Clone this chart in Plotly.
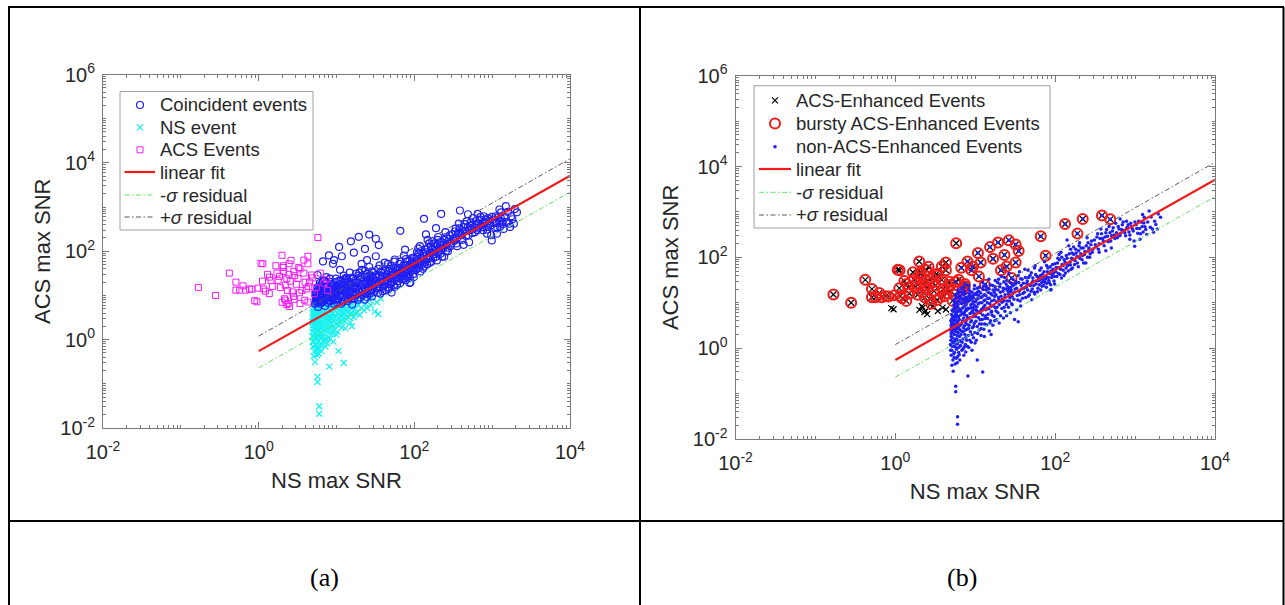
import plotly.graph_objects as go

W, H = 1285, 605


def fx(p):
    return p / W


def fy(p):
    return 1 - p / H


# ---------------------------------------------------------------
# Event catalogue: (NS max SNR, ACS max SNR)
# ---------------------------------------------------------------

# ACS-only events that are bursty
acs_bursty = [
    (0.168, 15.2), (0.28, 10.0), (0.42, 32), (0.51, 20), (0.51, 13.2), (0.57, 13.2),
    (0.63, 16.5), (0.68, 13.2), (0.76, 14), (0.82, 13.8), (0.98, 14.6), (1.07, 53),
    (1.13, 52), (1.12, 21), (1.15, 14), (1.22, 12.5), (1.37, 11), (1.38, 26),
    (1.44, 21.6), (1.5, 16), (1.66, 47), (1.72, 32), (1.78, 22), (1.99, 81),
    (1.85, 27), (2.05, 43), (2.08, 47), (2.2, 17), (2.35, 13), (2.46, 52),
    (2.45, 30), (2.55, 21), (2.7, 12), (2.83, 35), (2.9, 28), (3.05, 18),
    (3.2, 24), (3.27, 43), (3.35, 11.5), (3.81, 63), (3.8, 32), (3.95, 20),
    (4.1, 14), (4.29, 77), (4.29, 52), (4.4, 16), (4.77, 29), (4.9, 25),
    (5.2, 11), (5.5, 15), (5.77, 204), (6.2, 32), (6.9, 19), (7.4, 23),
    (7.7, 13), (2.1, 35), (1.3, 30), (2.6, 62), (3.4, 40), (1.9, 15),
    (2.3, 24), (2.8, 9.5), (3.6, 13), (4.5, 20),
]

# ACS-only events that are not bursty
acs_calm = [
    (0.89, 7.6), (0.95, 7.2), (2.0, 7.0), (2.2, 7.8), (2.3, 6.2), (2.5, 5.6),
    (2.15, 8.4), (2.9, 8.2), (3.4, 6.6), (3.9, 7.8), (4.3, 7.1), (2.4, 6.6),
]

# Coincident events well above the correlation (ACS-enhanced, bursty)
coinc_high = [
    (5.7, 29), (6.7, 59), (8.0, 81), (9.0, 52), (9.3, 63), (7.4, 26),
    (10.8, 125), (11.1, 38), (11.7, 77), (13.2, 25), (15.3, 168), (16.7, 93),
    (19.3, 212), (21, 52), (23.2, 113), (24.7, 63), (26.3, 239), (28.5, 35),
    (32, 192), (32, 77), (34.9, 138), (66, 290), (76, 109), (133, 543),
    (190, 333), (221, 700), (385, 835), (489, 687),
]

# Coincident events along the correlation
coinc_band = [
    (5.3, 6.5), (5.4, 9), (5.5, 12), (5.6, 7.5), (5.7, 15), (5.8, 5.5),
    (5.9, 10), (6.0, 8), (6.1, 19), (6.2, 6.5), (6.3, 11), (6.5, 14),
    (6.6, 7), (6.8, 9.5), (7.0, 22), (7.1, 5.8), (7.2, 12.5), (7.4, 8.5),
    (7.6, 16), (7.8, 6.8), (8.0, 10.5), (8.2, 13.5), (8.4, 7.5), (8.6, 18),
    (8.8, 9), (9.0, 11.5), (9.2, 6.5), (9.4, 14.5), (9.6, 8), (9.8, 24),
    (6.4, 17.5), (7.3, 10), (8.3, 20), (9.5, 10.5), (5.5, 7),
    (5.4, 11), (5.6, 8.5), (5.8, 13), (5.9, 7), (6.0, 16), (6.1, 9),
    (6.3, 7.5), (6.4, 12.5), (6.6, 10), (6.7, 21), (6.9, 12), (7.0, 7.8),
    (7.2, 15), (7.3, 18.5), (7.5, 11), (7.7, 9.2), (7.9, 13), (8.1, 7.6),
    (8.2, 24), (8.4, 11.5), (8.5, 15.5), (8.7, 12.2), (8.9, 7.9), (9.1, 17),
    (9.3, 9.6), (9.5, 12.8), (9.7, 20), (9.9, 8.6), (5.6, 10.5), (6.2, 13.8),
    (6.9, 16.5), (7.8, 12), (8.8, 14), (9.9, 15.8),
    (10.2, 7), (10.4, 12), (10.6, 17), (10.9, 9.5), (11.2, 22), (11.5, 6.5),
    (11.8, 13), (12.1, 10), (12.4, 28), (12.7, 8), (13.0, 15), (13.3, 11.5),
    (13.7, 19), (14.0, 7.5), (14.4, 12.5), (14.8, 33), (15.2, 9.5), (15.6, 16),
    (16.0, 11), (16.5, 24), (17.0, 8.5), (17.5, 14), (18.0, 19.5), (18.5, 10.5),
    (19.0, 28), (19.5, 13), (20.0, 9), (20.6, 17), (21.2, 38), (21.8, 12),
    (22.4, 21), (23.0, 8), (23.6, 15), (24.3, 26), (25.0, 11), (25.7, 18),
    (26.4, 44), (27.1, 13), (27.8, 22), (28.5, 9.5), (29.3, 16), (11.0, 14.5),
    (13.5, 24), (15.9, 6.2), (17.8, 31), (20.3, 22.5), (22.9, 11), (24.8, 31),
    (27.5, 17.5), (29.8, 24),
    (10.1, 10.5), (10.3, 15), (10.5, 8.2), (10.8, 12.3), (11.1, 18), (11.4, 10),
    (11.7, 16.5), (12.0, 7.2), (12.2, 13.5), (12.5, 19.5), (12.9, 11.2), (13.2, 8.8),
    (13.6, 14.2), (13.9, 22), (14.2, 10), (14.6, 16.8), (15.0, 12.5), (15.4, 25),
    (15.8, 8.4), (16.2, 14.8), (16.7, 19), (17.2, 11.5), (17.7, 22.5), (18.2, 15),
    (18.7, 8), (19.3, 19), (19.8, 11.8), (20.4, 26), (21.0, 14), (21.6, 10.2),
    (22.2, 18), (22.8, 29), (23.4, 13), (24.0, 20), (24.6, 9.2), (25.3, 23),
    (26.0, 15.5), (26.8, 11), (27.4, 28), (28.2, 19), (29.0, 13.5), (29.6, 33),
    (10.6, 21), (12.7, 23), (14.9, 20), (17.3, 17), (19.6, 33), (23.2, 36),
    (26.1, 20.5), (28.8, 26),
    (30.5, 12), (31.5, 20), (32.5, 29), (33.5, 14.5), (34.5, 40), (35.5, 18),
    (36.5, 11), (37.5, 24), (38.5, 33), (39.5, 16), (40.6, 21), (41.7, 55),
    (42.8, 13), (44.0, 27), (45.2, 19), (46.4, 36), (47.7, 15), (49.0, 24),
    (50.3, 46), (51.7, 20), (53.1, 30), (54.6, 17), (56.1, 65), (57.6, 26),
    (59.2, 38), (60.8, 21), (62.5, 31), (64.2, 52), (66.0, 19), (67.8, 28),
    (69.7, 43), (71.6, 24), (73.6, 80), (75.6, 33), (77.7, 22), (79.8, 48),
    (82.0, 36), (84.3, 28), (86.6, 62), (89.0, 19.5), (91.5, 41), (94.0, 55),
    (96.6, 30), (99.2, 72), (70.5, 35), (51, 11.6), (87, 19.2), (93, 52),
    (30.8, 17), (31.9, 26), (33.0, 21), (34.0, 11.5), (35.0, 28), (36.0, 15),
    (37.0, 34), (38.0, 20), (39.0, 12.5), (40.0, 27), (41.2, 17), (42.4, 36),
    (43.5, 22), (44.8, 30), (46.0, 14), (47.2, 25), (48.5, 40), (49.8, 18),
    (51.2, 28), (52.6, 35), (54.0, 24), (55.5, 15.5), (57.0, 42), (58.5, 30),
    (60.0, 17.5), (61.7, 36), (63.4, 25), (65.1, 33), (66.9, 58), (68.7, 23),
    (70.6, 30), (72.6, 48), (74.6, 28), (76.7, 38), (78.8, 27), (81.0, 58),
    (83.2, 31), (85.5, 44), (87.8, 25), (90.3, 36), (92.8, 70), (95.3, 45),
    (97.9, 38), (35.8, 48), (45.8, 52), (55.2, 58), (65.5, 40), (78.0, 66),
    (88.5, 50), (98.5, 26),
    (102, 48), (105, 38), (108, 95), (111, 60), (115, 42), (118, 130),
    (122, 70), (126, 52), (130, 88), (134, 45), (138, 110), (143, 66),
    (148, 180), (153, 78), (158, 55), (163, 125), (169, 92), (175, 70),
    (181, 150), (188, 105), (195, 62), (202, 210), (209, 120), (217, 88),
    (225, 160), (233, 115), (242, 75), (251, 270), (260, 140), (270, 100),
    (280, 190), (291, 130), (141, 240), (170, 170), (120, 35),
    (103, 60), (107, 75), (110, 44), (113, 88), (117, 55), (121, 100),
    (125, 65), (129, 40), (133, 78), (137, 58), (141, 95), (146, 50),
    (150, 120), (155, 68), (160, 95), (165, 58), (171, 115), (177, 85),
    (183, 125), (190, 75), (197, 140), (204, 95), (211, 160), (219, 110),
    (227, 75), (236, 135), (245, 180), (254, 100), (264, 160), (274, 120),
    (285, 230), (296, 150), (112, 115), (156, 150), (199, 180), (258, 210),
    (310, 240), (325, 170), (340, 330), (356, 200), (373, 420), (391, 260),
    (410, 180), (430, 350), (451, 290), (473, 480), (496, 230), (520, 380),
    (545, 310), (572, 560), (600, 270), (629, 420), (660, 340), (692, 520),
    (726, 390), (762, 300), (800, 460), (840, 360), (882, 560), (926, 420),
    (972, 230), (355, 130), (505, 160), (780, 620), (860, 250),
    (318, 190), (333, 280), (348, 150), (364, 260), (381, 330), (400, 230),
    (420, 280), (440, 410), (462, 220), (485, 350), (508, 300), (533, 450),
    (558, 260), (586, 350), (615, 480), (645, 300), (676, 410), (709, 600),
    (744, 350), (781, 420), (820, 520), (861, 310), (904, 480), (949, 380),
    (995, 600), (650, 700), (430, 140),
    (988, 176), (1030, 520), (1080, 340), (1140, 430), (1200, 590), (1260, 360),
    (1330, 470), (1400, 320), (1500, 1050), (1590, 775), (1700, 355), (1820, 530),
    (2080, 760), (1300, 760), (1150, 250), (1650, 420),
    (1050, 430), (1110, 620), (1170, 330), (1230, 480), (1290, 570), (1360, 410),
    (1440, 600), (1550, 460), (1760, 620), (1900, 420), (1950, 900), (1240, 880),
]

# NS-only events
ns_events = [
    (4.9, 1.2), (4.9, 2.5), (4.95, 4.0), (5.0, 0.7), (5.0, 1.8), (5.0, 3.2),
    (5.05, 5.5), (5.1, 0.9), (5.1, 2.2), (5.15, 6.8), (5.2, 1.4), (5.2, 3.8),
    (5.25, 0.55), (5.3, 2.8), (5.3, 0.31), (5.35, 4.6), (5.4, 1.1), (5.4, 7.5),
    (5.45, 2.0), (5.5, 0.8), (5.5, 3.4), (5.55, 5.2), (5.6, 1.6), (5.6, 0.45),
    (5.65, 2.6), (5.7, 0.145), (5.7, 0.11), (5.7, 4.1), (5.75, 1.25), (5.8, 6.0),
    (5.8, 2.3), (5.85, 0.95), (5.9, 3.6), (5.95, 1.9), (6.0, 0.031), (6.0, 0.021),
    (6.0, 0.65), (6.0, 5.0),
    (6.1, 1.4), (6.15, 2.9), (6.2, 0.8), (6.3, 4.3), (6.35, 1.8), (6.4, 0.55),
    (6.5, 3.2), (6.55, 1.15), (6.6, 6.5), (6.7, 2.4), (6.8, 0.9), (6.9, 4.0),
    (7.0, 1.6), (7.1, 2.8), (7.2, 0.7), (7.3, 5.5), (7.4, 2.0), (7.5, 1.2),
    (7.6, 3.6), (7.7, 7.2), (7.8, 1.5), (7.9, 2.6), (8.0, 4.6),
    (8.1, 0.245), (8.2, 1.9), (8.3, 1.04), (8.4, 3.2), (8.6, 5.8), (8.7, 2.3),
    (8.9, 1.35), (9.0, 4.0), (9.2, 2.8), (9.4, 7.0), (9.5, 1.7), (9.7, 3.5),
    (9.9, 2.2), (10.1, 5.0), (10.3, 1.5), (10.6, 0.55), (10.6, 3.0), (10.9, 6.2),
    (11.2, 2.5), (11.5, 4.2), (11.8, 1.9), (12.0, 3.4), (12.4, 0.3), (12.4, 5.4),
    (12.8, 2.6), (13.2, 4.5), (13.6, 7.0), (14.0, 3.3), (14.5, 5.6), (15.0, 2.4),
    (15.5, 4.0), (16.0, 6.5), (16.6, 3.2), (17.2, 5.0), (17.8, 7.8), (18.5, 4.2),
    (19.2, 6.0), (19.9, 3.6), (13.0, 1.8), (15.8, 2.0),
    (20.7, 5.2), (21.5, 7.5), (22.5, 4.6), (23.5, 6.5), (24.7, 5.2), (26, 8.0),
    (27.5, 6.0), (29, 9.0), (31, 4.3), (33, 7.0), (34.5, 3.8), (37, 8.5),
    (4.92, 0.9), (4.95, 1.5), (4.98, 2.1), (5.02, 2.8), (5.05, 3.6), (5.08, 4.4),
    (5.12, 1.1), (5.15, 1.7), (5.18, 2.5), (5.22, 5.0), (5.28, 1.3), (5.32, 3.3),
    (5.38, 0.75), (5.42, 2.4), (5.48, 4.0), (5.52, 1.45), (5.58, 6.2), (5.62, 2.9),
    (5.68, 1.05), (5.72, 3.0), (5.78, 0.6), (5.82, 4.8), (5.88, 1.6), (5.92, 2.7),
    (5.98, 1.25), (6.05, 3.9), (6.12, 2.2), (6.18, 4.9), (6.25, 1.05), (6.32, 2.6),
    (6.45, 1.45), (6.52, 5.4), (6.62, 2.0), (6.75, 3.4), (6.85, 1.35), (6.95, 5.8),
    (7.05, 2.3), (7.15, 4.6), (7.25, 1.05), (7.35, 3.1), (7.45, 6.4), (7.55, 2.5),
    (7.65, 1.75), (7.75, 4.1), (7.85, 5.2), (7.95, 1.1), (8.05, 3.3), (8.25, 2.7),
    (8.45, 4.6), (8.55, 1.5), (8.75, 3.8), (8.95, 6.0), (9.15, 2.0), (9.35, 4.9),
    (9.55, 3.0), (9.75, 5.7), (9.95, 1.3), (10.2, 3.9), (10.4, 6.7), (10.7, 2.1),
    (11.0, 4.7), (11.3, 3.4), (11.6, 6.0), (11.9, 2.7), (12.2, 4.3), (12.6, 7.2),
    (13.1, 3.4), (13.5, 5.2), (14.2, 4.5), (14.8, 7.4), (15.3, 3.6), (16.3, 5.3),
    (17.5, 4.0), (18.2, 6.6), (5.1, 0.42), (5.45, 0.62), (5.95, 0.48), (6.3, 0.72),
    (7.0, 0.95), (7.6, 0.82), (9.1, 0.9),
]

# Linear fit in log-log space and the +/- one-sigma residual bands
fit_x = [1, 1e4]
fit_y = [0.55, 5100]
sigma_lo_y = [0.23, 2170]
sigma_hi_y = [1.2, 12400]

tick_vals_x = [1e-2, 1e0, 1e2, 1e4]
tick_text_x = ["10<sup>-2</sup>", "10<sup>0</sup>", "10<sup>2</sup>", "10<sup>4</sup>"]
tick_vals_y = [1e-2, 1e0, 1e2, 1e4, 1e6]
tick_text_y = tick_text_x + ["10<sup>6</sup>"]

legend_a_labels = ["Coincident events", "NS event", "ACS Events",
                   "linear fit", "-<i>σ</i> residual", "+<i>σ</i> residual"]
legend_b_labels = ["ACS-Enhanced Events", "bursty ACS-Enhanced Events",
                   "non-ACS-Enhanced Events", "linear fit",
                   "-<i>σ</i> residual", "+<i>σ</i> residual"]


def split(pairs):
    return [p[0] for p in pairs], [p[1] for p in pairs]


def minor_ticks(d0, d1):
    vals = []
    for d in range(d0, d1):
        for k in range(1, 10):
            if k == 1 and d % 2 == 0:
                continue
            vals.append(k * 10.0 ** d)
    return vals


FONT = "Liberation Sans, Arial, Helvetica, sans-serif"
AX_COL = "#7a7a7a"
TXT_COL = "#262626"

BLUE = "#1f1ff5"
CYAN = "#19f0f0"
MAGENTA = "#f21cf2"
RED = "#f01a1a"
GREEN = "#5de65d"
GRAY = "#5a5a5a"
DASHDOT = "5px,2.5px,1.5px,2.5px"

STYLE = {
    "coinc": dict(symbol="circle-open", size=7, color=BLUE, line=dict(color=BLUE, width=1.2)),
    "ns": dict(symbol="x-thin-open", size=6, color=CYAN, line=dict(color=CYAN, width=1.3)),
    "acs": dict(symbol="square-open", size=6, color=MAGENTA, line=dict(color=MAGENTA, width=1)),
    "enh": dict(symbol="x-thin-open", size=6, color="black", line=dict(color="black", width=1.2)),
    "burst": dict(symbol="circle-open", size=10, color=RED, line=dict(color=RED, width=2)),
    "dot": dict(symbol="circle", size=3.5, color=BLUE, line=dict(width=0)),
}
LINES = {
    "fit": dict(color=RED, width=2.2),
    "lo": dict(color=GREEN, width=1, dash=DASHDOT),
    "hi": dict(color=GRAY, width=1, dash=DASHDOT),
}

fig = go.Figure()


def scatter(pairs, style, xa, ya):
    x, y = split(pairs)
    fig.add_trace(go.Scatter(x=x, y=y, mode="markers", marker=STYLE[style],
                             showlegend=False, hoverinfo="skip", xaxis=xa, yaxis=ya))


# ---------------- panel (a) ----------------
scatter(ns_events, "ns", "x", "y")
scatter(coinc_band + coinc_high, "coinc", "x", "y")
scatter(acs_bursty + acs_calm, "acs", "x", "y")

# ---------------- panel (b) ----------------
scatter(acs_bursty + acs_calm + coinc_high, "enh", "x2", "y2")
scatter(acs_bursty + coinc_high, "burst", "x2", "y2")
scatter(coinc_band + coinc_high + ns_events, "dot", "x2", "y2")

# fit and residual lines in both panels
for xa, ya in (("x", "y"), ("x2", "y2")):
    for key, yy in (("fit", fit_y), ("lo", sigma_lo_y), ("hi", sigma_hi_y)):
        fig.add_trace(go.Scatter(x=fit_x, y=yy, mode="lines", line=LINES[key],
                                 showlegend=False, hoverinfo="skip", xaxis=xa, yaxis=ya))


# ---------------- legends (pixel-space overlay) ----------------
def draw_legend(box, rows, key_x, line_x, text_x, labels, keys, size):
    x0, y0, x1, y1 = box
    fig.add_shape(type="rect", xref="paper", yref="paper",
                  x0=fx(x0), x1=fx(x1), y0=fy(y0), y1=fy(y1),
                  line=dict(color="#a0a0a0", width=1), fillcolor="white", layer="below")
    for row, label, key in zip(rows, labels, keys):
        if key in LINES:
            fig.add_trace(go.Scatter(x=list(line_x), y=[row, row], mode="lines",
                                     line=LINES[key], showlegend=False, hoverinfo="skip",
                                     xaxis="x3", yaxis="y3"))
        else:
            fig.add_trace(go.Scatter(x=[key_x], y=[row], mode="markers", marker=STYLE[key],
                                     showlegend=False, hoverinfo="skip",
                                     xaxis="x3", yaxis="y3"))
        fig.add_annotation(xref="paper", yref="paper", x=fx(text_x), y=fy(row),
                           text=label, showarrow=False, xanchor="left", yanchor="middle",
                           font=dict(family=FONT, size=size, color=TXT_COL))


draw_legend((120, 91.5, 313, 230), [105, 127.4, 149.8, 172, 195, 217],
            140, (124.5, 155), 158, legend_a_labels,
            ["coinc", "ns", "acs", "fit", "lo", "hi"], 18.5)
draw_legend((754, 85.7, 1050, 228), [100.4, 123.5, 146.7, 169, 192.3, 215],
            775, (759, 791), 793.5, legend_b_labels,
            ["enh", "burst", "dot", "fit", "lo", "hi"], 18.5)


def axis(domain, rng, vals, text, title, anchor, standoff, label_gap):
    return dict(
        type="log", domain=domain, range=rng, anchor=anchor, automargin=False,
        tickvals=vals, ticktext=text, ticks="inside", ticklen=6, tickwidth=1,
        tickcolor=AX_COL, showline=True, linecolor=AX_COL, linewidth=1,
        mirror="allticks", showgrid=False, zeroline=False, ticklabelstandoff=label_gap,
        tickfont=dict(family=FONT, size=20, color=TXT_COL),
        minor=dict(tickvals=minor_ticks(rng[0], rng[1]), ticks="inside", ticklen=3,
                   tickcolor=AX_COL, showgrid=False),
        title=dict(text=title, font=dict(family=FONT, size=22, color=TXT_COL), standoff=standoff),
    )


fig.update_layout(
    template="none",
    width=W, height=H, margin=dict(l=0, r=0, t=0, b=0, pad=0),
    paper_bgcolor="white", plot_bgcolor="rgba(0,0,0,0)",
    font=dict(family=FONT, color=TXT_COL), showlegend=False,
    xaxis=axis([fx(103), fx(570)], [-2, 4], tick_vals_x, tick_text_x, "NS max SNR", "y", 10, 6),
    yaxis=axis([fy(428), fy(74.5)], [-2, 6], tick_vals_y, tick_text_y, "ACS max SNR", "x", 3, 3),
    xaxis2=axis([fx(735.5), fx(1215)], [-2, 4], tick_vals_x, tick_text_x, "NS max SNR", "y2", 10, 6),
    yaxis2=axis([fy(439), fy(75.7)], [-2, 6], tick_vals_y, tick_text_y, "ACS max SNR", "x2", 8, 3),
    xaxis3=dict(domain=[0, 1], range=[0, W], anchor="y3", visible=False, fixedrange=True),
    yaxis3=dict(domain=[0, 1], range=[H, 0], anchor="x3", visible=False, fixedrange=True),
)

# table rules framing the two panels and their captions
rules = [
    (9, 7, 9, H), (8, 7, 1284, 7), (1283.5, 7, 1283.5, H),
    (640, 7, 640, H), (8, 521, 1284, 521),
]
for x0, y0, x1, y1 in rules:
    fig.add_shape(type="line", xref="paper", yref="paper",
                  x0=fx(x0), y0=fy(y0), x1=fx(x1), y1=fy(y1),
                  line=dict(color="black", width=2))

for label, cx_ in (("(a)", 324), ("(b)", 962)):
    fig.add_annotation(xref="paper", yref="paper", x=fx(cx_), y=fy(577),
                       text=label, showarrow=False, xanchor="center", yanchor="middle",
                       font=dict(family="Liberation Serif, Times New Roman, serif",
                                 size=26, color="black"))

fig.write_html("out.html")
